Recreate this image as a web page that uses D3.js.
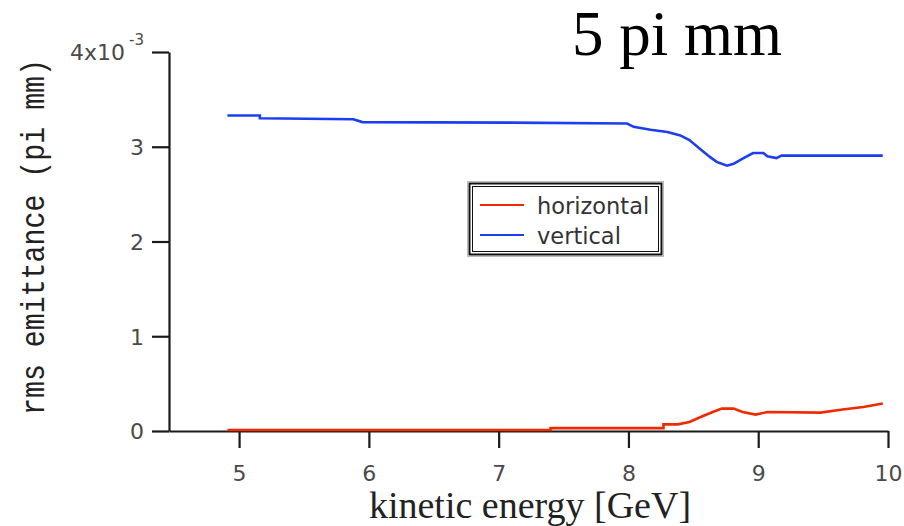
<!DOCTYPE html>
<html>
<head>
<meta charset="utf-8">
<script src="https://cdn.jsdelivr.net/npm/d3@7"></script>
<style>
  html, body { margin: 0; padding: 0; background: #fff; }
  svg { display: block; }
</style>
</head>
<body>
<svg id="chart" width="904" height="526"></svg>
<script>
// Kinetic energy [GeV] and rms emittance in units of 10^-3 pi mm
const horizontalEnergy = [4.91, 7.40, 7.40, 7.55, 8.27, 8.27, 8.38, 8.47, 8.57, 8.65, 8.72, 8.81, 8.88, 8.98, 9.07, 9.48, 9.65, 9.81, 9.96];
const horizontalEmit   = [0.01, 0.01, 0.03, 0.03, 0.03, 0.07, 0.07, 0.095, 0.155, 0.20, 0.236, 0.236, 0.20, 0.173, 0.20, 0.194, 0.226, 0.253, 0.29];

const verticalEnergy = [4.91, 5.16, 5.16, 5.88, 5.95, 7.09, 7.99, 8.04, 8.17, 8.30, 8.40, 8.47, 8.55, 8.63, 8.68, 8.76, 8.81, 8.88, 8.96, 9.04, 9.07, 9.14, 9.18, 9.96];
const verticalEmit   = [3.33, 3.33, 3.30, 3.29, 3.26, 3.255, 3.245, 3.21, 3.18, 3.156, 3.12, 3.07, 2.98, 2.89, 2.84, 2.80, 2.82, 2.875, 2.934, 2.934, 2.90, 2.88, 2.906, 2.906];

const xTicks = [5, 6, 7, 8, 9, 10];
const yTicks = [0, 1, 2, 3, 4];
const yTickLabels = ["0", "1", "2", "3", "4x10"];
const yExponent = "-3";

const seriesNames = ["horizontal", "vertical"];
const seriesColors = ["#f02a00", "#1d3ef0"];

const svg = d3.select("#chart");

const x = d3.scaleLinear().domain([4.46, 10]).range([169, 888]);
const y = d3.scaleLinear().domain([0, 4]).range([431, 52]);

// Title
svg.append("text")
  .attr("x", 572).attr("y", 55)
  .attr("font-family", "Liberation Serif, Times New Roman, serif")
  .attr("font-size", 63)
  .attr("fill", "#000")
  .text("5 pi mm");

// Axes
const xAxis = d3.axisBottom(x).tickValues(xTicks).tickSize(17).tickSizeOuter(0).tickFormat(d3.format("d"));
const yAxis = d3.axisLeft(y).tickValues(yTicks).tickSize(17).tickSizeOuter(0)
  .tickFormat((d, i) => yTickLabels[i]);

const gx = svg.append("g").attr("transform", `translate(0,${y(0)})`).call(xAxis);
const gy = svg.append("g").attr("transform", `translate(${x.range()[0]},0)`).call(yAxis);

[gx, gy].forEach(g => {
  g.select(".domain").attr("stroke", "#1a1a1a").attr("stroke-width", 2.2);
  g.selectAll(".tick line").attr("stroke", "#1a1a1a").attr("stroke-width", 2.2);
  g.selectAll(".tick text")
    .attr("font-family", "DejaVu Sans, Verdana, sans-serif")
    .attr("font-size", 22)
    .attr("fill", "#4a4a4a");
});
gx.selectAll(".tick text").attr("dy", null).attr("y", 50);
gy.selectAll(".tick text").attr("x", -25).attr("dy", "0.36em");

// exponent on the top y label
const topLabel = gy.selectAll(".tick").filter(d => d === 4).select("text");
topLabel.append("tspan")
  .attr("font-size", 15)
  .attr("dx", 4)
  .attr("dy", "-1.0em")
  .text(yExponent);

// Axis titles
svg.append("text")
  .attr("x", 530).attr("y", 518)
  .attr("text-anchor", "middle")
  .attr("font-family", "Liberation Serif, Times New Roman, serif")
  .attr("font-size", 38)
  .attr("fill", "#222")
  .text("kinetic energy [GeV]");

svg.append("text")
  .attr("transform", "translate(44,237) rotate(-90)")
  .attr("text-anchor", "middle")
  .attr("font-family", "Liberation Mono, Courier New, monospace")
  .attr("font-size", 33)
  .attr("textLength", 356)
  .attr("lengthAdjust", "spacingAndGlyphs")
  .attr("fill", "#222")
  .text("rms emittance (pi mm)");

// Data lines
const line = d3.line().x(d => x(d[0])).y(d => y(d[1]));

const series = [
  d3.zip(horizontalEnergy, horizontalEmit),
  d3.zip(verticalEnergy, verticalEmit)
];

series.forEach((pts, i) => {
  svg.append("path")
    .datum(pts)
    .attr("fill", "none")
    .attr("stroke", seriesColors[i])
    .attr("stroke-width", 2.6)
    .attr("stroke-linejoin", "miter")
    .attr("d", line);
});

// Legend
const legend = svg.append("g");
legend.append("rect")
  .attr("x", 467.5).attr("y", 181.5).attr("width", 196).attr("height", 75)
  .attr("fill", "#fff").attr("stroke", "#bbb").attr("stroke-width", 1);
legend.append("rect")
  .attr("x", 469.5).attr("y", 183.5).attr("width", 192).attr("height", 71)
  .attr("fill", "none").attr("stroke", "#111").attr("stroke-width", 2);
legend.append("rect")
  .attr("x", 472.5).attr("y", 186.5).attr("width", 186).attr("height", 65)
  .attr("fill", "none").attr("stroke", "#111").attr("stroke-width", 1);

seriesNames.forEach((name, i) => {
  const ly = 205 + i * 30;
  legend.append("line")
    .attr("x1", 480).attr("x2", 524).attr("y1", ly).attr("y2", ly)
    .attr("stroke", seriesColors[i]).attr("stroke-width", 2);
  legend.append("text")
    .attr("x", 537).attr("y", ly + 9)
    .attr("font-family", "DejaVu Sans, Verdana, sans-serif")
    .attr("font-size", 22.5)
    .attr("fill", "#333")
    .text(name);
});
</script>
</body>
</html>
